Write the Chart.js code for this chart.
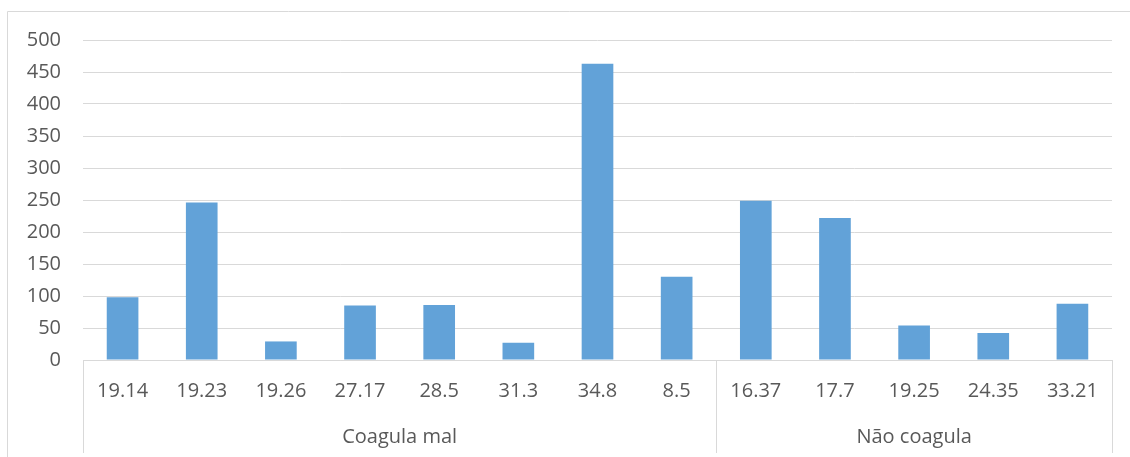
<!DOCTYPE html>
<html>
<head>
<meta charset="utf-8">
<script src="https://cdn.jsdelivr.net/npm/chart.js@4"></script>
<style>
  html, body { margin: 0; padding: 0; background: #ffffff; }
  #wrap { width: 1130px; height: 457px; }
</style>
</head>
<body>
<div id="wrap"><canvas id="chart" width="1130" height="457"></canvas></div>
<script>
// Sample measurements, grouped by clotting behaviour
const categories = ['19.14', '19.23', '19.26', '27.17', '28.5', '31.3', '34.8', '8.5', '16.37', '17.7', '19.25', '24.35', '33.21'];
const values = [98, 246, 29, 85, 86, 27, 463, 130, 249, 222, 54, 42, 88];
const groupNames = ['Coagula mal', 'Não coagula'];
const groupSizes = [8, 5];
const yTicks = [0, 50, 100, 150, 200, 250, 300, 350, 400, 450, 500];

const TEXT = '#595959';
const LINE = '#d9d9d9';
const FONT = '"Open Sans", "Liberation Sans", sans-serif';

// Second label row: group names under their categories, with dividers
const groupAxis = {
  id: 'groupAxis',
  afterDraw(chart) {
    const ctx = chart.ctx;
    const x = chart.scales.x;
    const area = chart.chartArea;
    const half = (x.getPixelForValue(1) - x.getPixelForValue(0)) / 2;
    const bottom = 453;
    ctx.save();
    ctx.strokeStyle = LINE;
    ctx.lineWidth = 1;
    // outer frame
    ctx.beginPath();
    ctx.moveTo(7.5, chart.height + 5);
    ctx.lineTo(7.5, 11.5);
    ctx.lineTo(chart.width + 5, 11.5);
    ctx.stroke();

    let start = 0;
    const edges = [];
    groupSizes.forEach((n, i) => {
      const left = x.getPixelForValue(start) - half;
      const right = x.getPixelForValue(start + n - 1) + half;
      edges.push(left, right);
      ctx.fillStyle = TEXT;
      ctx.font = '20px ' + FONT;
      ctx.textAlign = 'center';
      ctx.textBaseline = 'middle';
      ctx.fillText(groupNames[i], (left + right) / 2, 437);
      start += n;
    });
    ctx.beginPath();
    [...new Set(edges.map(e => Math.round(e)))].forEach(e => {
      ctx.moveTo(e + 0.5, area.bottom);
      ctx.lineTo(e + 0.5, bottom);
    });
    ctx.stroke();
    ctx.restore();
  }
};

new Chart(document.getElementById('chart'), {
  type: 'bar',
  data: {
    labels: categories,
    datasets: [{
      data: values,
      backgroundColor: '#62A2D8',
      borderWidth: 0,
      barPercentage: 0.4,
      categoryPercentage: 1.0
    }]
  },
  options: {
    responsive: false,
    animation: false,
    layout: { padding: { top: 40, right: 18, bottom: 0, left: 0 } },
    plugins: { legend: { display: false }, tooltip: { enabled: false } },
    scales: {
      x: {
        grid: { display: false, drawTicks: false },
        border: { display: true, color: LINE, width: 1 },
        ticks: { color: TEXT, font: { family: FONT, size: 20 }, padding: 19, maxRotation: 0, autoSkip: false },
        afterFit(scale) { scale.height = 97; }
      },
      y: {
        min: 0,
        max: 500,
        afterBuildTicks(scale) { scale.ticks = yTicks.map(v => ({ value: v })); },
        grid: { color: LINE, lineWidth: 1, drawTicks: false },
        border: { display: false },
        ticks: { color: TEXT, font: { family: FONT, size: 20 }, padding: 22 },
        afterFit(scale) { scale.width = 83; }
      }
    }
  },
  plugins: [groupAxis]
});
</script>
</body>
</html>
